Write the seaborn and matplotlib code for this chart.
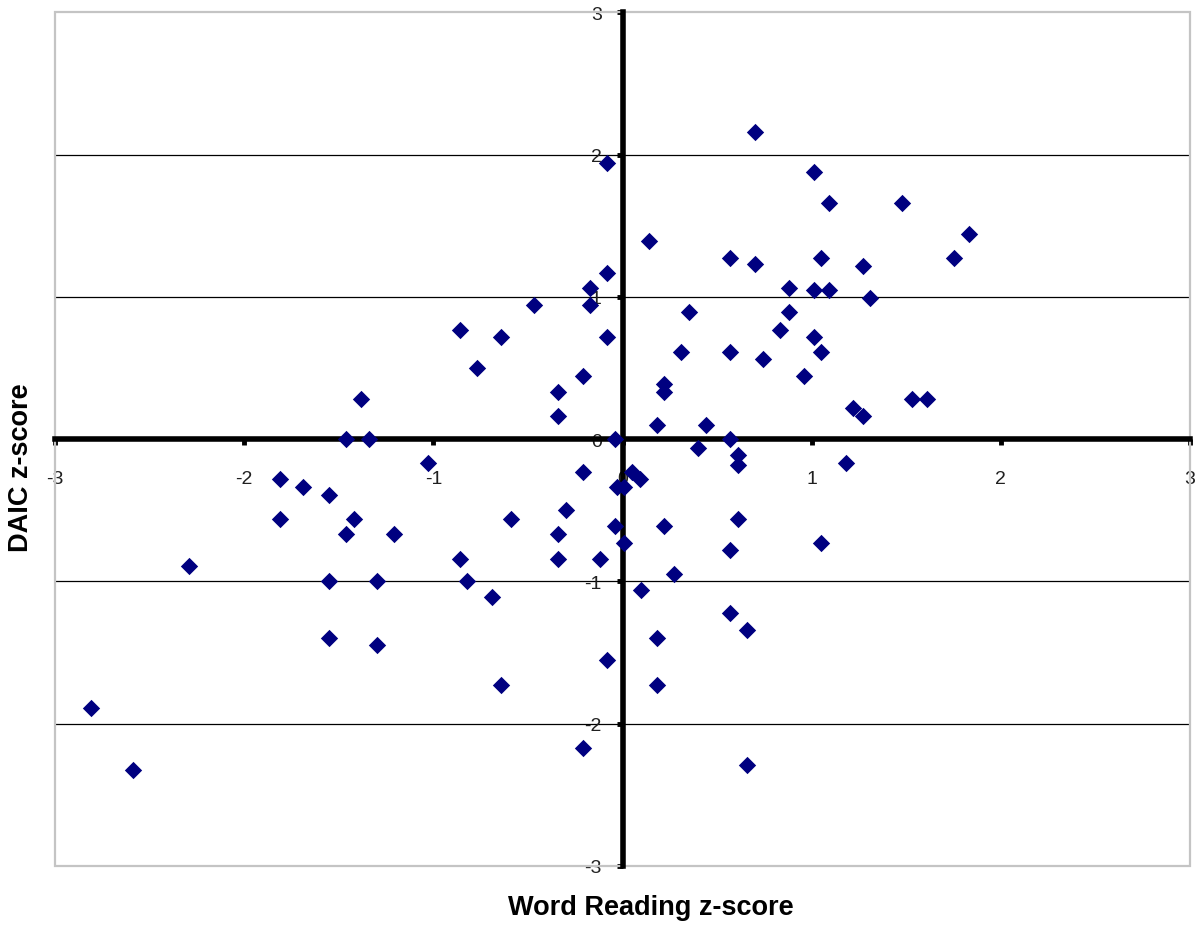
import matplotlib
matplotlib.use('Agg')
import matplotlib.pyplot as plt
from matplotlib.patches import Rectangle
import seaborn as sns
import pandas as pd

# Word Reading z-score (x) and DAIC z-score (y)
word_reading = [0.70, -0.08, 1.01, 1.09, 1.48, 1.83, 0.14, 0.57, 0.70, 1.05,
                1.27, 1.75, -0.08, -0.17, 0.88, 1.01, 1.09, 1.31, -0.47, -0.17,
                0.35, 0.88, -0.86, 0.83, -0.64, -0.08, 1.01, 0.31, 0.57, 1.05,
                0.74, -0.77, -0.21, 0.96, 0.22, -0.34, 0.22, -1.38, 1.53, 1.61,
                1.22, 1.27, -0.34, 0.18, 0.44, -1.46, -1.34, -0.04, 0.57, 0.40,
                0.61, 0.61, -1.03, 1.18, -1.81, -1.69, -1.55, -0.21, 0.05, 0.09,
                -0.03, 0.01, -0.30, -1.81, -1.42, -0.59, 0.61, -0.04, 0.22, -1.46,
                -1.21, -0.34, 0.01, 1.05, 0.57, -0.86, -0.34, -0.12, -2.29, 0.27,
                -1.55, -1.30, -0.82, 0.10, -0.69, 0.57, 0.66, -1.55, 0.18, -1.30,
                -0.08, -0.64, 0.18, -2.81, -0.21, 0.66, -2.59]
daic = [2.16, 1.94, 1.88, 1.66, 1.66, 1.44, 1.39, 1.27, 1.23, 1.27,
        1.22, 1.27, 1.17, 1.06, 1.06, 1.05, 1.05, 0.99, 0.94, 0.94,
        0.89, 0.89, 0.77, 0.77, 0.72, 0.72, 0.72, 0.61, 0.61, 0.61,
        0.56, 0.50, 0.44, 0.44, 0.39, 0.33, 0.33, 0.28, 0.28, 0.28,
        0.22, 0.16, 0.16, 0.10, 0.10, 0.00, 0.00, 0.00, 0.00, -0.06,
        -0.11, -0.18, -0.17, -0.17, -0.28, -0.34, -0.39, -0.23, -0.23, -0.28,
        -0.34, -0.34, -0.50, -0.56, -0.56, -0.56, -0.56, -0.61, -0.61, -0.67,
        -0.67, -0.67, -0.73, -0.73, -0.78, -0.84, -0.84, -0.84, -0.89, -0.95,
        -1.00, -1.00, -1.00, -1.06, -1.11, -1.22, -1.34, -1.40, -1.40, -1.45,
        -1.55, -1.73, -1.73, -1.89, -2.17, -2.29, -2.33]
ticks = [-3, -2, -1, 0, 1, 2, 3]

df = pd.DataFrame({'word': word_reading, 'daic': daic})

sns.set_style('white')
plt.rcParams['font.family'] = ['Liberation Sans', 'DejaVu Sans']
plt.rcParams['axes.unicode_minus'] = False

fig = plt.figure(figsize=(11.99, 9.28), dpi=100)
ax = fig.add_axes([0.0459, 0.066, 0.9466, 0.9196])

sns.scatterplot(data=df, x='word', y='daic', marker='D', color='#000080',
                edgecolor='#000080', s=78, linewidth=0, ax=ax, zorder=4)

ax.set_xlim(-3, 3)
ax.set_ylim(-3, 3)
ax.set_xticks(ticks)
ax.set_yticks(ticks)
ax.set_xlabel('')
ax.set_ylabel('')

# axes crossing at zero like the original
for side in ['left', 'bottom']:
    ax.spines[side].set_position('zero')
    ax.spines[side].set_linewidth(4)
    ax.spines[side].set_color('black')
    ax.spines[side].set_zorder(3)
for side in ['top', 'right']:
    ax.spines[side].set_visible(False)

ax.tick_params(axis='both', direction='out', length=4, width=3.5, color='black',
               labelsize=14, labelcolor='#202020', bottom=True, left=True)
ax.tick_params(axis='x', pad=18)
ax.tick_params(axis='y', pad=11)

ax.yaxis.grid(True, color='black', linewidth=0.9)
gl = ax.get_ygridlines()
gl[0].set_visible(False)
gl[-1].set_visible(False)

ax.add_patch(Rectangle((0, 0), 1, 1, transform=ax.transAxes, fill=False,
                       edgecolor='#c4c4c4', linewidth=1.6, clip_on=False, zorder=1))

fig.text(0.543, 0.022, 'Word Reading z-score', ha='center', va='center',
         fontsize=19.5, fontweight='bold', color='black')
fig.text(0.0175, 0.496, 'DAIC z-score', ha='center', va='center',
         rotation=90, fontsize=19.5, fontweight='bold', color='black')

plt.savefig('out.png', dpi=100)
